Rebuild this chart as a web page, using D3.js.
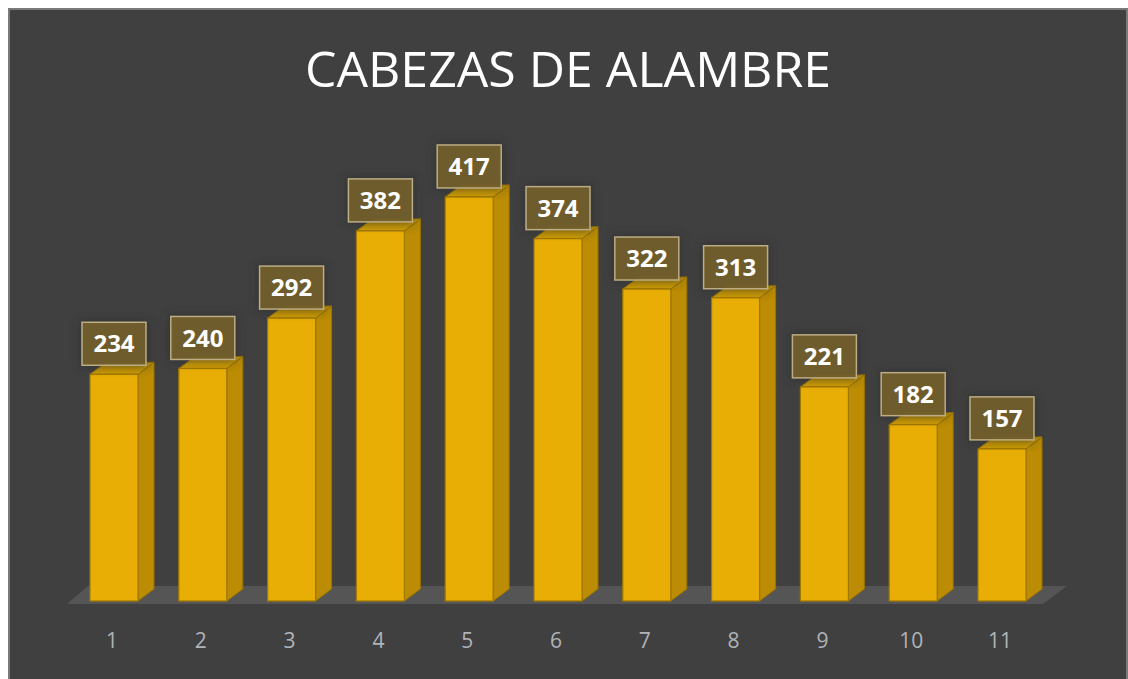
<!DOCTYPE html>
<html>
<head>
<meta charset="utf-8">
<script src="https://cdn.jsdelivr.net/npm/d3@7"></script>
<style>
  html, body { margin: 0; padding: 0; background: #fff; }
  svg { display: block; }
</style>
</head>
<body>
<div id="chart"></div>
<script>
var categories = ['1', '2', '3', '4', '5', '6', '7', '8', '9', '10', '11']
var values = [234, 240, 292, 382, 417, 374, 322, 313, 221, 182, 157]
var title = 'CABEZAS DE ALAMBRE'

var width = 1128
var height = 679

var barW = 48
var depthX = 16
var depthY = -12
var baseY = 601

var svg = d3.select('#chart').append('svg')
    .attr('width', width)
    .attr('height', height)

var defs = svg.append('defs')
var blur = defs.append('filter').attr('id', 'glow')
    .attr('x', '-30%').attr('y', '-30%').attr('width', '160%').attr('height', '160%')
blur.append('feGaussianBlur').attr('stdDeviation', 5)

// chart area
svg.append('rect')
    .attr('x', 9).attr('y', 9)
    .attr('width', width - 10).attr('height', height)
    .attr('fill', '#404040')
    .attr('stroke', '#7a7a7a')
    .attr('stroke-width', 2)

svg.append('text')
    .attr('x', 568)
    .attr('y', 87)
    .attr('text-anchor', 'middle')
    .attr('fill', '#ffffff')
    .style('font-family', '"Open Sans", sans-serif')
    .style('font-size', '50px')
    .text(title)

var x = d3.scalePoint()
    .domain(categories)
    .range([114, 1002])

var y = d3.scaleLinear()
    .domain([0, 450])
    .range([baseY, baseY - 436])

// floor
var fx0 = x(categories[0]) - 47
var fx1 = x(categories[categories.length - 1]) + 41
svg.append('path')
    .attr('d', 'M' + fx0 + ',604 L' + fx1 + ',604 L' + (fx1 + 24) + ',586 L' + (fx0 + 21) + ',586 Z')
    .attr('fill', '#555555')

var data = categories.map(function(c, i) { return { cat: c, value: values[i] } })

var bars = svg.selectAll('.bar').data(data)
    .enter().append('g').attr('class', 'bar')

// side face
bars.append('path')
    .attr('d', function(d) {
        var x1 = x(d.cat) + barW / 2
        var t = y(d.value)
        return 'M' + x1 + ',' + baseY + ' L' + (x1 + depthX) + ',' + (baseY + depthY) +
            ' L' + (x1 + depthX) + ',' + (t + depthY) + ' L' + x1 + ',' + t + ' Z'
    })
    .attr('fill', '#bb8c04')
    .attr('stroke', '#9a7300')
    .attr('stroke-width', 1)

// top face
bars.append('path')
    .attr('d', function(d) {
        var x0 = x(d.cat) - barW / 2
        var t = y(d.value)
        return 'M' + x0 + ',' + t + ' L' + (x0 + barW) + ',' + t +
            ' L' + (x0 + barW + depthX) + ',' + (t + depthY) + ' L' + (x0 + depthX) + ',' + (t + depthY) + ' Z'
    })
    .attr('fill', '#cc9b03')
    .attr('stroke', '#9a7300')
    .attr('stroke-width', 1)

// front face
bars.append('rect')
    .attr('x', function(d) { return x(d.cat) - barW / 2 })
    .attr('y', function(d) { return y(d.value) })
    .attr('width', barW)
    .attr('height', function(d) { return baseY - y(d.value) })
    .attr('fill', '#e8ae06')
    .attr('stroke', '#a07800')
    .attr('stroke-width', 1.2)

// data labels
var boxW = 64
var boxH = 43
var labels = svg.selectAll('.lbl').data(data)
    .enter().append('g').attr('class', 'lbl')
    .attr('transform', function(d) {
        return 'translate(' + x(d.cat) + ',' + (y(d.value) - 9 - boxH / 2) + ')' })

labels.append('rect')
    .attr('x', -boxW / 2 - 2).attr('y', -boxH / 2 - 2)
    .attr('width', boxW + 4).attr('height', boxH + 4)
    .attr('fill', '#2a2a2a')
    .attr('opacity', 0.6)
    .attr('filter', 'url(#glow)')

labels.append('rect')
    .attr('x', -boxW / 2).attr('y', -boxH / 2)
    .attr('width', boxW).attr('height', boxH)
    .attr('fill', '#74602b')
    .attr('fill-opacity', 0.92)
    .attr('stroke', '#bcad84')
    .attr('stroke-width', 1.5)

labels.append('text')
    .attr('text-anchor', 'middle')
    .attr('dy', '0.36em')
    .attr('fill', '#ffffff')
    .style('font-family', '"Open Sans", sans-serif')
    .style('font-weight', 'bold')
    .style('font-size', '24px')
    .text(function(d) { return d.value })

// category axis
svg.append('g').selectAll('text').data(categories)
    .enter().append('text')
    .attr('x', function(d) { return x(d) - 2 })
    .attr('y', 648)
    .attr('text-anchor', 'middle')
    .attr('fill', '#b0b3b8')
    .style('font-family', '"Open Sans", sans-serif')
    .style('font-size', '21px')
    .text(function(d) { return d })
</script>
</body>
</html>
